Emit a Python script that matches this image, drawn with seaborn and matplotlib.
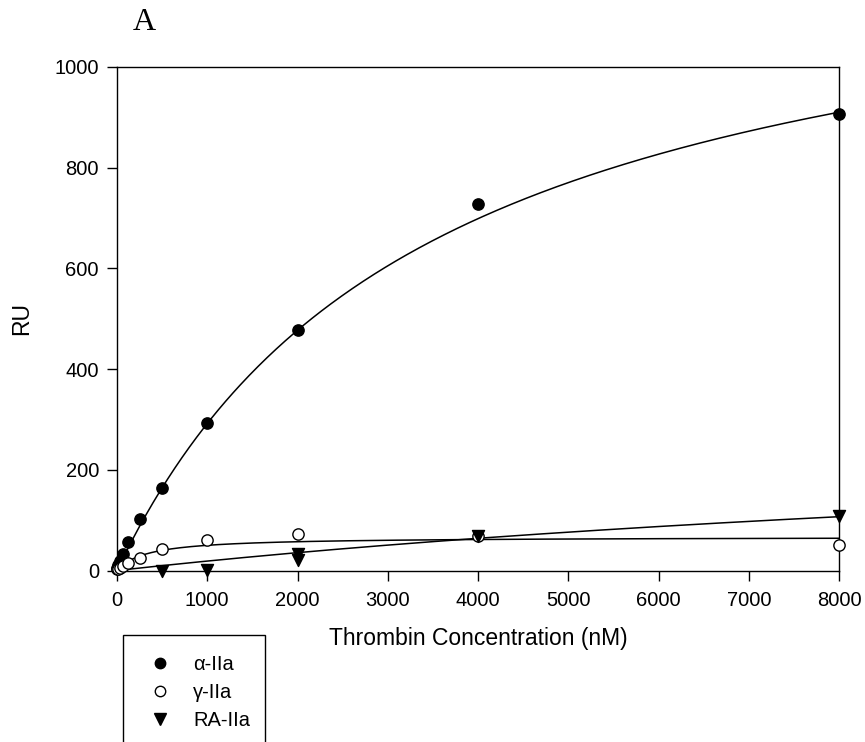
import numpy as np
import pandas as pd
import matplotlib
matplotlib.use("Agg")
import matplotlib.pyplot as plt
from matplotlib.lines import Line2D
from matplotlib.patches import Rectangle
import seaborn as sns

# ---- data ----
alpha_x = [0, 15.6, 31.25, 62.5, 125, 250, 500, 1000, 2000, 4000, 8000]
alpha_y = [5, 10, 18, 32, 57, 102, 164, 293, 477, 728, 907]

gamma_x = [0, 15.6, 31.25, 62.5, 125, 250, 500, 1000, 2000, 4000, 8000]
gamma_y = [2, 3, 5, 8, 14, 25, 42, 60, 73, 68, 51]

ra_x = [500, 1000, 2000, 2000, 4000, 8000]
ra_y = [0, 1, 33, 20, 68, 109]

# hyperbolic fit parameters (Bmax, Kd) of the drawn curves
alpha_fit = (1305.0, 3470.0)
gamma_fit = (66.7, 333.0)
ra_fit = (326.0, 16400.0)

labels = ["α-IIa", "γ-IIa", "RA-IIa"]
x_ticks = [0, 1000, 2000, 3000, 4000, 5000, 6000, 7000, 8000]
y_ticks = [0, 200, 400, 600, 800, 1000]

# ---- style ----
sns.set_style("ticks")
plt.rcParams["font.family"] = ["Liberation Sans", "DejaVu Sans"]
for k in ["text.color", "axes.labelcolor", "xtick.color", "ytick.color", "axes.edgecolor"]:
    plt.rcParams[k] = "black"

fig = plt.figure(figsize=(8.65, 7.42), dpi=100)
ax = fig.add_axes([117 / 865, 1 - 570.5 / 742, (839 - 117) / 865, (570.5 - 67) / 742])


def curve(params, x0=0.0):
    b, k = params
    xs = np.linspace(x0, 8000, 400)
    return pd.DataFrame({"x": xs, "y": b * xs / (k + xs)})


lw = 1.1
for params, x0 in [(alpha_fit, 0.0), (gamma_fit, 0.0), (ra_fit, 30.0)]:
    d = curve(params, x0)
    sns.lineplot(data=d, x="x", y="y", ax=ax, color="black", lw=lw,
                 estimator=None, sort=False)

ms = 66
sns.scatterplot(x=alpha_x, y=alpha_y, ax=ax, marker="o", s=ms,
                color="black", edgecolor="black", linewidth=1, clip_on=False, zorder=5)
sns.scatterplot(x=gamma_x, y=gamma_y, ax=ax, marker="o", s=ms,
                color="white", edgecolor="black", linewidth=1, clip_on=False, zorder=5)
sns.scatterplot(x=ra_x, y=ra_y, ax=ax, marker="v", s=75,
                color="black", edgecolor="black", linewidth=1, clip_on=False, zorder=5)

ax.set_xlim(0, 8000)
ax.set_ylim(0, 1000)
ax.set_xticks(x_ticks)
ax.set_yticks(y_ticks)
ax.tick_params(axis="both", direction="out", length=7, width=1, labelsize=14.5,
               colors="black")
ax.tick_params(axis="x", pad=8)
ax.tick_params(axis="y", pad=6)
for s in ax.spines.values():
    s.set_visible(True)
    s.set_linewidth(1)
    s.set_color("black")

ax.set_xlabel("Thrombin Concentration (nM)", fontsize=16.5, labelpad=12)
ax.set_ylabel("RU", fontsize=16.5, labelpad=15)

fig.text(144 / 865, 1 - 23 / 742, "A", fontsize=23, family="Liberation Serif",
         ha="center", va="center")

# legend box extending below the figure edge
fig.add_artist(Rectangle((123 / 865, -0.05), (265 - 123) / 865, 0.05 + 1 - 635 / 742,
                         transform=fig.transFigure, fill=False, ec="black", lw=1))
handles = [
    Line2D([], [], ls="none", marker="o", ms=7.5, mfc="black", mec="black"),
    Line2D([], [], ls="none", marker="o", ms=7.5, mfc="white", mec="black"),
    Line2D([], [], ls="none", marker="v", ms=8, mfc="black", mec="black"),
]
fig.legend(handles, labels, loc="upper left",
           bbox_to_anchor=(148 / 865, 1 - 655 / 742), frameon=False,
           fontsize=14.5, handlelength=1.2, handletextpad=1.05, labelspacing=0.45,
           borderaxespad=0, borderpad=0)

fig.savefig("out.png", dpi=100)
